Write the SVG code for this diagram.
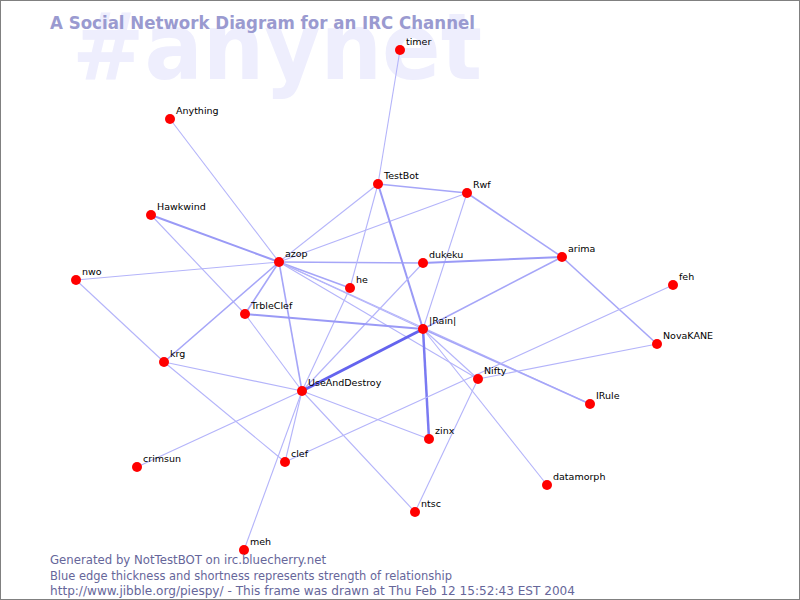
<svg xmlns="http://www.w3.org/2000/svg" width="800" height="600" viewBox="0 0 800 600">
<style>
.e1{stroke:#b4b4fa;stroke-width:1.1;fill:none}
.e2{stroke:#a6a6f8;stroke-width:1.6;fill:none}
.e3{stroke:#9a9af6;stroke-width:2;fill:none}
.e4{stroke:#7a7af2;stroke-width:2.5;fill:none}
.e5{stroke:#6464ee;stroke-width:3;fill:none}
.n circle{fill:#ff0000}
.n text{font-family:"DejaVu Sans",sans-serif;font-size:9.5px;fill:#000}
.foot{font-family:"DejaVu Sans",sans-serif;font-size:11.5px;fill:#66669a}
</style>
<rect x="0" y="0" width="800" height="600" fill="#ffffff"/>
<text x="72" y="79" font-family="DejaVu Sans, sans-serif" font-weight="bold" font-size="92" fill="#eeeefd" textLength="410" lengthAdjust="spacingAndGlyphs">#anynet</text>
<text x="50" y="29" font-family="DejaVu Sans, sans-serif" font-weight="bold" font-size="17" fill="#9a9ad0" textLength="425" lengthAdjust="spacingAndGlyphs">A Social Network Diagram for an IRC Channel</text>
<g id="edges">
<line class="e1" x1="400" y1="50" x2="378" y2="184"/>
<line class="e1" x1="170" y1="119" x2="279" y2="262"/>
<line class="e3" x1="151" y1="215" x2="279" y2="262"/>
<line class="e1" x1="151" y1="215" x2="245" y2="314"/>
<line class="e1" x1="76" y1="280" x2="279" y2="262"/>
<line class="e1" x1="76" y1="280" x2="164" y2="362"/>
<line class="e2" x1="164" y1="362" x2="279" y2="262"/>
<line class="e1" x1="164" y1="362" x2="302" y2="391"/>
<line class="e1" x1="164" y1="362" x2="285" y2="462"/>
<line class="e1" x1="279" y1="262" x2="378" y2="184"/>
<line class="e1" x1="279" y1="262" x2="467" y2="193"/>
<line class="e2" x1="279" y1="262" x2="423" y2="263"/>
<line class="e2" x1="279" y1="262" x2="350" y2="288"/>
<line class="e2" x1="279" y1="262" x2="245" y2="314"/>
<line class="e2" x1="279" y1="262" x2="302" y2="391"/>
<line class="e1" x1="279" y1="262" x2="423" y2="329"/>
<line class="e1" x1="279" y1="262" x2="478" y2="379"/>
<line class="e1" x1="279" y1="262" x2="590" y2="404"/>
<line class="e1" x1="378" y1="184" x2="350" y2="288"/>
<line class="e2" x1="378" y1="184" x2="467" y2="193"/>
<line class="e3" x1="378" y1="184" x2="423" y2="329"/>
<line class="e1" x1="467" y1="193" x2="423" y2="329"/>
<line class="e2" x1="467" y1="193" x2="562" y2="257"/>
<line class="e3" x1="423" y1="263" x2="562" y2="257"/>
<line class="e2" x1="562" y1="257" x2="423" y2="329"/>
<line class="e2" x1="562" y1="257" x2="657" y2="344"/>
<line class="e1" x1="423" y1="263" x2="302" y2="391"/>
<line class="e1" x1="350" y1="288" x2="302" y2="391"/>
<line class="e1" x1="245" y1="314" x2="302" y2="391"/>
<line class="e3" x1="245" y1="314" x2="423" y2="329"/>
<line class="e5" x1="423" y1="329" x2="302" y2="391"/>
<line class="e4" x1="423" y1="329" x2="429" y2="439"/>
<line class="e2" x1="423" y1="329" x2="590" y2="404"/>
<line class="e1" x1="423" y1="329" x2="478" y2="379"/>
<line class="e1" x1="423" y1="329" x2="547" y2="485"/>
<line class="e1" x1="478" y1="379" x2="415" y2="512"/>
<line class="e1" x1="478" y1="379" x2="657" y2="344"/>
<line class="e1" x1="673" y1="285" x2="285" y2="462"/>
<line class="e1" x1="302" y1="391" x2="285" y2="462"/>
<line class="e1" x1="302" y1="391" x2="244" y2="550"/>
<line class="e1" x1="302" y1="391" x2="137" y2="467"/>
<line class="e1" x1="302" y1="391" x2="429" y2="439"/>
<line class="e1" x1="302" y1="391" x2="415" y2="512"/>
</g>
<g id="timer" class="n"><circle cx="400" cy="50" r="5"/><text x="406" y="45">timer</text></g>
<g id="Anything" class="n"><circle cx="170" cy="119" r="5"/><text x="176" y="114">Anything</text></g>
<g id="TestBot" class="n"><circle cx="378" cy="184" r="5"/><text x="384" y="179">TestBot</text></g>
<g id="Rwf" class="n"><circle cx="467" cy="193" r="5"/><text x="473" y="188">Rwf</text></g>
<g id="Hawkwind" class="n"><circle cx="151" cy="215" r="5"/><text x="157" y="210">Hawkwind</text></g>
<g id="azop" class="n"><circle cx="279" cy="262" r="5"/><text x="285" y="257">azop</text></g>
<g id="dukeku" class="n"><circle cx="423" cy="263" r="5"/><text x="429" y="258">dukeku</text></g>
<g id="arima" class="n"><circle cx="562" cy="257" r="5"/><text x="568" y="252">arima</text></g>
<g id="nwo" class="n"><circle cx="76" cy="280" r="5"/><text x="82" y="275">nwo</text></g>
<g id="feh" class="n"><circle cx="673" cy="285" r="5"/><text x="679" y="280">feh</text></g>
<g id="he" class="n"><circle cx="350" cy="288" r="5"/><text x="356" y="283">he</text></g>
<g id="TrbleClef" class="n"><circle cx="245" cy="314" r="5"/><text x="251" y="309">TrbleClef</text></g>
<g id="Rain" class="n"><circle cx="423" cy="329" r="5"/><text x="429" y="324">|Rain|</text></g>
<g id="NovaKANE" class="n"><circle cx="657" cy="344" r="5"/><text x="663" y="339">NovaKANE</text></g>
<g id="krg" class="n"><circle cx="164" cy="362" r="5"/><text x="170" y="357">krg</text></g>
<g id="Nifty" class="n"><circle cx="478" cy="379" r="5"/><text x="484" y="374">Nifty</text></g>
<g id="UseAndDestroy" class="n"><circle cx="302" cy="391" r="5"/><text x="308" y="386">UseAndDestroy</text></g>
<g id="IRule" class="n"><circle cx="590" cy="404" r="5"/><text x="596" y="399">IRule</text></g>
<g id="zinx" class="n"><circle cx="429" cy="439" r="5"/><text x="435" y="434">zinx</text></g>
<g id="crimsun" class="n"><circle cx="137" cy="467" r="5"/><text x="143" y="462">crimsun</text></g>
<g id="clef" class="n"><circle cx="285" cy="462" r="5"/><text x="291" y="457">clef</text></g>
<g id="datamorph" class="n"><circle cx="547" cy="485" r="5"/><text x="553" y="480">datamorph</text></g>
<g id="ntsc" class="n"><circle cx="415" cy="512" r="5"/><text x="421" y="507">ntsc</text></g>
<g id="meh" class="n"><circle cx="244" cy="550" r="5"/><text x="250" y="545">meh</text></g>
<text class="foot" x="50" y="564" textLength="276" lengthAdjust="spacingAndGlyphs">Generated by NotTestBOT on irc.bluecherry.net</text>
<text class="foot" x="50" y="580" textLength="402" lengthAdjust="spacingAndGlyphs">Blue edge thickness and shortness represents strength of relationship</text>
<text class="foot" x="50" y="595" textLength="525" lengthAdjust="spacingAndGlyphs">http://www.jibble.org/piespy/ - This frame was drawn at Thu Feb 12 15:52:43 EST 2004</text>
<rect x="0.5" y="0.5" width="799" height="599" fill="none" stroke="#808080" stroke-width="1"/>
</svg>
